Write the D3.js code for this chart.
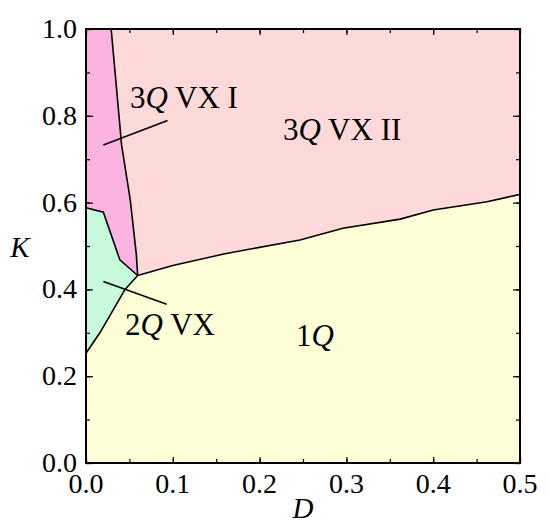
<!DOCTYPE html>
<html>
<head>
<meta charset="utf-8">
<script src="https://cdn.jsdelivr.net/npm/d3@7"></script>
<style>
  body { margin: 0; background: #fff; }
  text { font-family: "Liberation Serif", "Times New Roman", serif; fill: #000; }
</style>
</head>
<body>
<div id="chart"></div>
<script>
// phase boundaries, [D, K]
var bndI_II = [[0.029, 1.0], [0.041, 0.733], [0.051, 0.606], [0.058, 0.48], [0.0595, 0.432]];
var bndI_2Q = [[0, 0.588], [0.020, 0.578], [0.039, 0.468], [0.0595, 0.432]];
var bnd2Q_1Q = [[0, 0.253], [0.016, 0.30], [0.045, 0.40], [0.0595, 0.432]];
var bndII_1Q = [[0.0595, 0.432], [0.10, 0.455], [0.16, 0.482], [0.2465, 0.514], [0.296, 0.541],
                [0.362, 0.562], [0.40, 0.583], [0.462, 0.602], [0.5, 0.619]];

// label pointers
var ptrI = [[0.020, 0.733], [0.094, 0.789]];
var ptr2Q = [[0.020, 0.418], [0.093, 0.366]];

// region labels: prefix, italic part, suffix, D, K
var labels = [
  ["3", "Q", " VX I", 0.0507, 0.818],
  ["3", "Q", " VX II", 0.227, 0.745],
  ["2", "Q", " VX", 0.045, 0.296],
  ["1", "Q", "", 0.242, 0.27]
];

var xTicks = [0, 0.1, 0.2, 0.3, 0.4, 0.5];
var yTicks = [0, 0.2, 0.4, 0.6, 0.8, 1.0];

var width = 550, height = 529;
var margin = {left: 86, top: 29, right: 30, bottom: 66};
var w = width - margin.left - margin.right,
    h = height - margin.top - margin.bottom;

var x = d3.scaleLinear().domain([0, 0.5]).range([0, w]);
var y = d3.scaleLinear().domain([0, 1]).range([h, 0]);

var svg = d3.select("#chart").append("svg")
  .attr("width", width)
  .attr("height", height);

var g = svg.append("g")
  .attr("transform", "translate(" + margin.left + "," + margin.top + ")");

var rev = function(a) { return a.slice().reverse(); };

// region polygons
var poly1Q = [[0, 0], [0.5, 0]].concat(rev(bndII_1Q), rev(bnd2Q_1Q).slice(1));
var poly2Q = bnd2Q_1Q.concat(rev(bndI_2Q).slice(1));
var polyI = bndI_2Q.concat(rev(bndI_II).slice(1), [[0, 1]]);
var polyII = bndI_II.concat(bndII_1Q.slice(1), [[0.5, 1]]);

var regions = [
  {pts: polyII, fill: "#fdd9d9"},
  {pts: polyI, fill: "#fab4df"},
  {pts: poly2Q, fill: "#c7f9db"},
  {pts: poly1Q, fill: "#fdfed8"}
];

var line = d3.line()
  .x(function(d) { return x(d[0]); })
  .y(function(d) { return y(d[1]); });

g.selectAll("path.region")
  .data(regions)
  .enter().append("path")
  .attr("class", "region")
  .attr("d", function(d) { return line(d.pts) + "Z"; })
  .attr("fill", function(d) { return d.fill; })
  .attr("stroke", function(d) { return d.fill; })
  .attr("stroke-width", 0.5);

// boundary lines and pointers
g.selectAll("path.bnd")
  .data([bndI_II, bndI_2Q, bnd2Q_1Q, bndII_1Q, ptrI, ptr2Q])
  .enter().append("path")
  .attr("class", "bnd")
  .attr("d", line)
  .attr("fill", "none")
  .attr("stroke", "#000")
  .attr("stroke-width", 1.6);

// labels
var lab = g.selectAll("text.lab")
  .data(labels)
  .enter().append("text")
  .attr("class", "lab")
  .attr("x", function(d) { return x(d[3]); })
  .attr("y", function(d) { return y(d[4]); })
  .attr("font-size", 31);
lab.append("tspan").text(function(d) { return d[0]; });
lab.append("tspan").attr("font-style", "italic").text(function(d) { return d[1]; });
lab.append("tspan").text(function(d) { return d[2]; });

// axes with inward ticks on all sides
function ticks(axisFn, scale, vals, size) {
  return axisFn(scale).tickValues(vals).tickSize(size).tickFormat("");
}
var xMinor = d3.range(0, 0.501, 0.05), yMinor = d3.range(0, 1.001, 0.1);

g.append("g").attr("transform", "translate(0," + h + ")").call(ticks(d3.axisTop, x, xMinor, 4));
g.append("g").attr("transform", "translate(0," + h + ")").call(ticks(d3.axisTop, x, xTicks, 6));
g.append("g").call(ticks(d3.axisBottom, x, xMinor, 4));
g.append("g").call(ticks(d3.axisBottom, x, xTicks, 6));
g.append("g").call(ticks(d3.axisRight, y, yMinor, 4));
g.append("g").call(ticks(d3.axisRight, y, yTicks, 7));
g.append("g").attr("transform", "translate(" + w + ",0)").call(ticks(d3.axisLeft, y, yMinor, 4));
g.append("g").attr("transform", "translate(" + w + ",0)").call(ticks(d3.axisLeft, y, yTicks, 7));

g.selectAll(".domain").remove();
g.selectAll(".tick line").attr("stroke", "#000").attr("stroke-width", 1.2);

// frame
g.append("rect")
  .attr("width", w)
  .attr("height", h)
  .attr("fill", "none")
  .attr("stroke", "#000")
  .attr("stroke-width", 2);

// tick labels
g.selectAll("text.xt")
  .data(xTicks)
  .enter().append("text")
  .attr("class", "xt")
  .attr("x", function(d) { return x(d); })
  .attr("y", h + 30)
  .attr("text-anchor", "middle")
  .attr("font-size", 28)
  .text(function(d) { return d3.format(".1f")(d); });

g.selectAll("text.yt")
  .data(yTicks)
  .enter().append("text")
  .attr("class", "yt")
  .attr("x", -9)
  .attr("y", function(d) { return y(d) + 9; })
  .attr("text-anchor", "end")
  .attr("font-size", 28)
  .text(function(d) { return d3.format(".1f")(d); });

// axis titles
g.append("text")
  .attr("x", w / 2)
  .attr("y", h + 55)
  .attr("text-anchor", "middle")
  .attr("font-size", 29)
  .attr("font-style", "italic")
  .text("D");

g.append("text")
  .attr("x", -66)
  .attr("y", y(0.475))
  .attr("text-anchor", "middle")
  .attr("font-size", 29)
  .attr("font-style", "italic")
  .text("K");
</script>
</body>
</html>
